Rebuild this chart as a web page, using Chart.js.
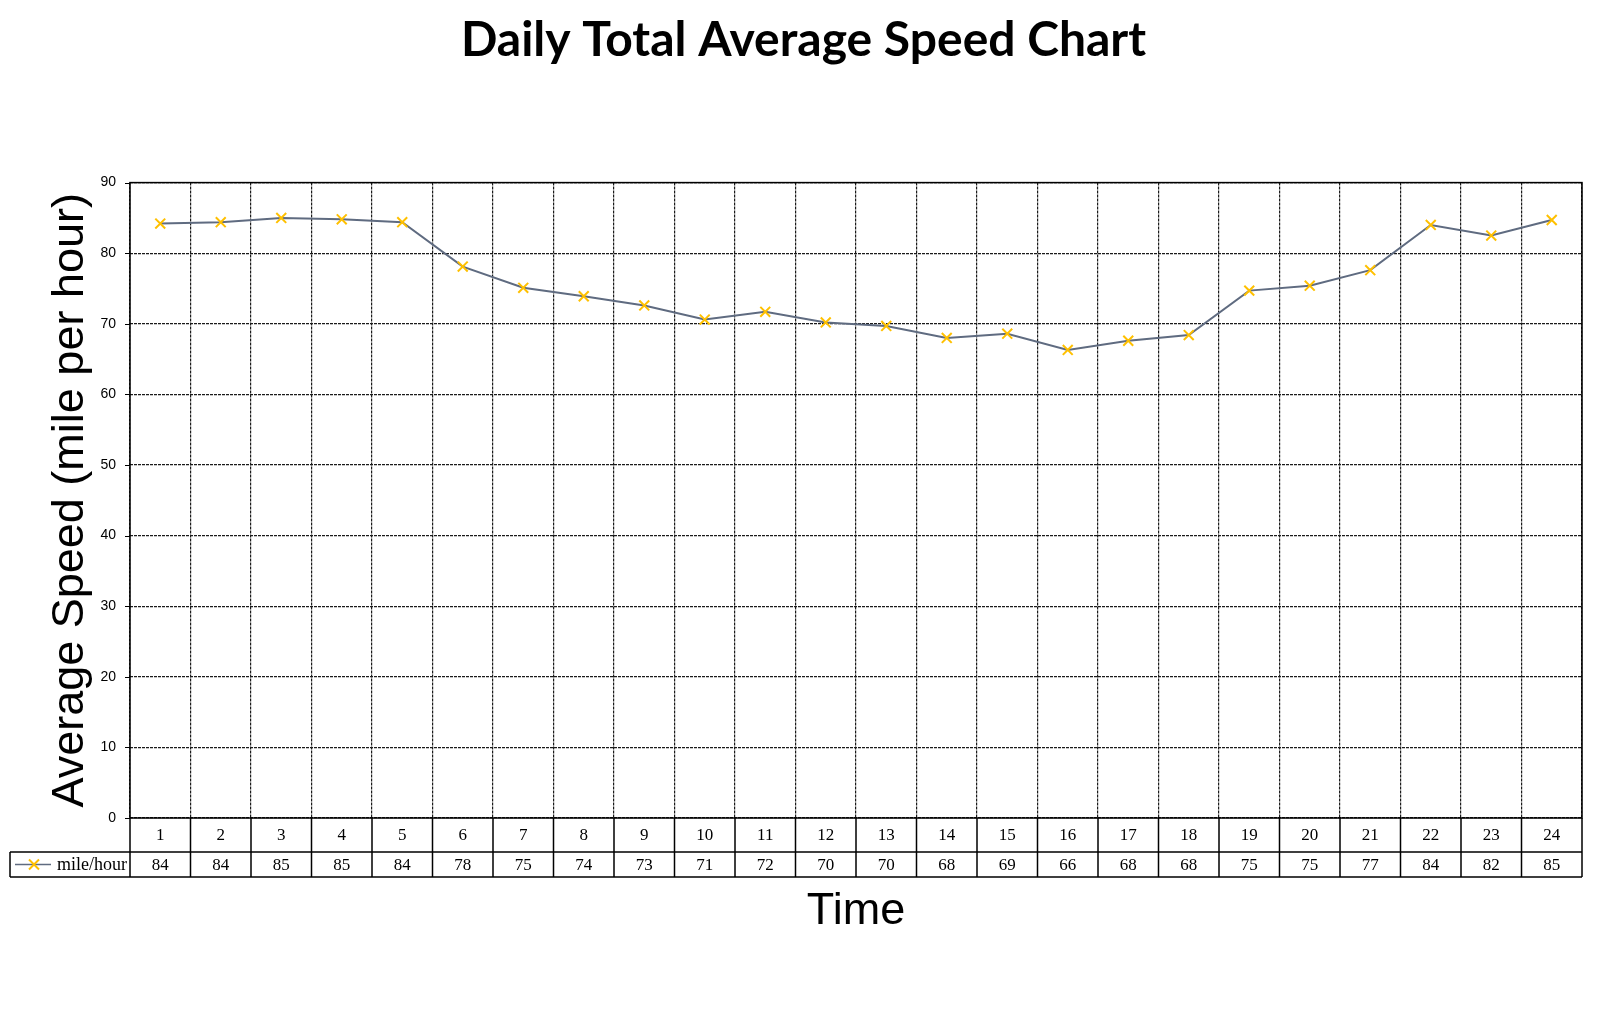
<!DOCTYPE html>
<html>
<head>
<meta charset="utf-8">
<title>Daily Total Average Speed Chart</title>
<script src="https://cdn.jsdelivr.net/npm/chart.js@4.4.1/dist/chart.umd.min.js"></script>
<style>
  html, body { margin: 0; padding: 0; background: #fff; }
</style>
</head>
<body>
<canvas id="chart" width="1607" height="1036"></canvas>
<script>
// Chart data
const chartTitle = 'Daily Total Average Speed Chart';
const hours = ['1', '2', '3', '4', '5', '6', '7', '8', '9', '10', '11', '12',
  '13', '14', '15', '16', '17', '18', '19', '20', '21', '22', '23', '24'];
const speeds = [84.2, 84.4, 85.0, 84.8, 84.4, 78.1, 75.1, 73.9, 72.6, 70.6, 71.7, 70.2,
  69.7, 68.0, 68.6, 66.3, 67.6, 68.4, 74.7, 75.4, 77.6, 84.0, 82.5, 84.7];
// values printed in the data table under the chart
const tableValues = [84, 84, 85, 85, 84, 78, 75, 74, 73, 71, 72, 70,
  70, 68, 69, 66, 68, 68, 75, 75, 77, 84, 82, 85];
const yTicks = [0, 10, 20, 30, 40, 50, 60, 70, 80, 90];
const seriesName = 'mile/hour';
const yTitle = 'Average Speed (mile per hour)';
const xTitle = 'Time';

const lineColor = '#5f6b80';
const markerColor = '#ffc000';

// Draws the plot frame, y tick marks and the data table below the plot
const dataTablePlugin = {
  id: 'dataTable',
  afterDraw(chart) {
    const ctx = chart.ctx;
    const a = chart.chartArea;
    const x = chart.scales.x;
    const y = chart.scales.y;
    const row1 = a.bottom + 34; // bottom of category row
    const row2 = row1 + 25;     // bottom of value row
    const legendLeft = 10;
    const cellW = (a.right - a.left) / hours.length;

    ctx.save();
    ctx.setLineDash([]);
    ctx.strokeStyle = '#000';
    ctx.lineWidth = 1.5;

    // frame round the plot
    ctx.strokeRect(a.left, a.top, a.right - a.left, a.bottom - a.top);

    // tick marks on the y axis
    ctx.lineWidth = 1;
    yTicks.forEach(v => {
      const py = Math.round(y.getPixelForValue(v)) + 0.5;
      ctx.beginPath();
      ctx.moveTo(a.left - 5, py);
      ctx.lineTo(a.left, py);
      ctx.stroke();
    });

    // table lines
    ctx.lineWidth = 1.5;
    ctx.beginPath();
    ctx.moveTo(legendLeft, row1); ctx.lineTo(a.right, row1);
    ctx.moveTo(legendLeft, row2); ctx.lineTo(a.right, row2);
    ctx.moveTo(legendLeft, row1); ctx.lineTo(legendLeft, row2);
    ctx.moveTo(a.left, a.bottom); ctx.lineTo(a.left, row2);
    hours.forEach((h, i) => {
      const right = x.getPixelForValue(i) + cellW / 2;
      ctx.moveTo(right, a.bottom); ctx.lineTo(right, row2);
    });
    ctx.stroke();

    // table text
    ctx.fillStyle = '#000';
    ctx.font = '17px "Liberation Serif", "Times New Roman", serif';
    ctx.textAlign = 'center';
    ctx.textBaseline = 'middle';
    hours.forEach((h, i) => {
      const cx = x.getPixelForValue(i);
      ctx.fillText(h, cx, (a.bottom + row1) / 2 + 1);
      ctx.fillText(String(tableValues[i]), cx, (row1 + row2) / 2 + 1);
    });

    // legend key in the first cell of the value row
    const ly = (row1 + row2) / 2;
    ctx.strokeStyle = lineColor;
    ctx.lineWidth = 1.5;
    ctx.beginPath();
    ctx.moveTo(legendLeft + 5, ly); ctx.lineTo(legendLeft + 41, ly);
    ctx.stroke();
    ctx.strokeStyle = markerColor;
    ctx.lineWidth = 2;
    ctx.beginPath();
    const mx = legendLeft + 24, r = 5;
    ctx.moveTo(mx - r, ly - r); ctx.lineTo(mx + r, ly + r);
    ctx.moveTo(mx - r, ly + r); ctx.lineTo(mx + r, ly - r);
    ctx.stroke();
    ctx.font = '18px "Liberation Serif", "Times New Roman", serif';
    ctx.textAlign = 'left';
    ctx.fillText(seriesName, legendLeft + 47, ly + 1);
    ctx.restore();
  }
};

const ctx = document.getElementById('chart').getContext('2d');
new Chart(ctx, {
  type: 'line',
  data: {
    labels: hours,
    datasets: [{
      label: seriesName,
      data: speeds,
      borderColor: lineColor,
      borderWidth: 2,
      tension: 0,
      pointStyle: 'crossRot',
      pointRadius: 7,
      pointBorderColor: markerColor,
      pointBorderWidth: 2,
      pointBackgroundColor: markerColor,
    }],
  },
  options: {
    responsive: false,
    animation: false,
    devicePixelRatio: 1,
    layout: { padding: { left: 25, right: 25, top: 0, bottom: 0 } },
    plugins: {
      legend: { display: false },
      tooltip: { enabled: false },
      title: {
        display: true,
        text: chartTitle,
        color: '#000',
        font: { family: 'Lato', size: 48, weight: 'bold' },
        padding: { top: 12, bottom: 113 },
      },
    },
    scales: {
      x: {
        offset: true,
        grid: { offset: true, color: '#1a1a1a', lineWidth: 1.2, drawTicks: false },
        border: { display: false, dash: [3, 1] },
        ticks: { display: false },
        title: {
          display: true,
          text: xTitle,
          color: '#000',
          font: { family: '"Liberation Sans", Arial, sans-serif', size: 45 },
          padding: { top: 0, bottom: 97 },
        },
        afterFit(scale) { scale.height = 218; },
      },
      y: {
        min: 0,
        max: 90,
        afterBuildTicks(scale) { scale.ticks = yTicks.map(v => ({ value: v })); },
        grid: { color: '#1a1a1a', lineWidth: 1.2, drawTicks: false },
        border: { display: false, dash: [3, 1] },
        ticks: {
          color: '#000',
          padding: 14,
          font: { family: '"Liberation Sans", Arial, sans-serif', size: 14 },
        },
        title: {
          display: true,
          text: yTitle,
          color: '#000',
          font: { family: '"Liberation Sans", Arial, sans-serif', size: 45 },
          padding: { top: 19, bottom: 0 },
        },
        afterFit(scale) { scale.width = 105; },
      },
    },
  },
  plugins: [dataTablePlugin],
});
</script>
</body>
</html>
